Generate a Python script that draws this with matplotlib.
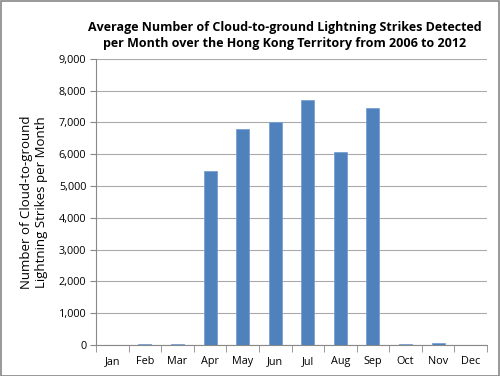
import matplotlib
matplotlib.use("Agg")
import matplotlib.pyplot as plt
from matplotlib.patches import Rectangle

months = ["Jan", "Feb", "Mar", "Apr", "May", "Jun", "Jul", "Aug", "Sep", "Oct", "Nov", "Dec"]
strikes = [0, 30, 30, 5480, 6800, 7020, 7700, 6070, 7440, 25, 75, 0]
yticks = list(range(0, 9001, 1000))

plt.rcParams['font.family'] = ['Open Sans', 'DejaVu Sans']

fig = plt.figure(figsize=(5.0, 3.76), dpi=100)
ax = fig.add_axes([0.192, 0.0824, 0.782, 0.761])

x = list(range(len(months)))
ax.bar(x, strikes, width=0.4, color="#4F81BD", edgecolor="#7AA0D0", linewidth=0.6, zorder=3)

ax.set_xlim(-0.5, len(months) - 0.5)
ax.set_ylim(0, 9000)
ax.set_yticks(yticks)
ax.set_yticklabels([f"{v:,}" for v in yticks], fontsize=7.8)
ax.set_xticks(x)
ax.set_xticklabels(months, fontsize=7.8)
ax.tick_params(axis='x', which='major', length=0, pad=8)
ax.set_xticks([i + 0.5 for i in range(-1, len(months))], minor=True)
ax.tick_params(axis='x', which='minor', length=5, color="#888888", direction='out')
ax.tick_params(axis='y', length=4, color="#888888", direction='out', pad=3)

ax.yaxis.grid(True, color="#AAAAAA", linewidth=0.8, zorder=0)
for s in ['top', 'right']:
    ax.spines[s].set_visible(False)
for s in ['left', 'bottom']:
    ax.spines[s].set_color("#888888")
    ax.spines[s].set_linewidth(0.8)

ax.set_ylabel("Number of Cloud-to-ground\nLightning Strikes per Month", fontsize=9.5, labelpad=8)

fig.text(0.57, 0.905, "Average Number of Cloud-to-ground Lightning Strikes Detected\nper Month over the Hong Kong Territory from 2006 to 2012",
         ha='center', va='center', fontsize=9, fontweight='bold', linespacing=1.35)

fig.patches.append(Rectangle((0.001, 0.001), 0.996, 0.996, transform=fig.transFigure,
                             fill=False, edgecolor="#888888", linewidth=1.2))

fig.savefig("out.png", dpi=100)
